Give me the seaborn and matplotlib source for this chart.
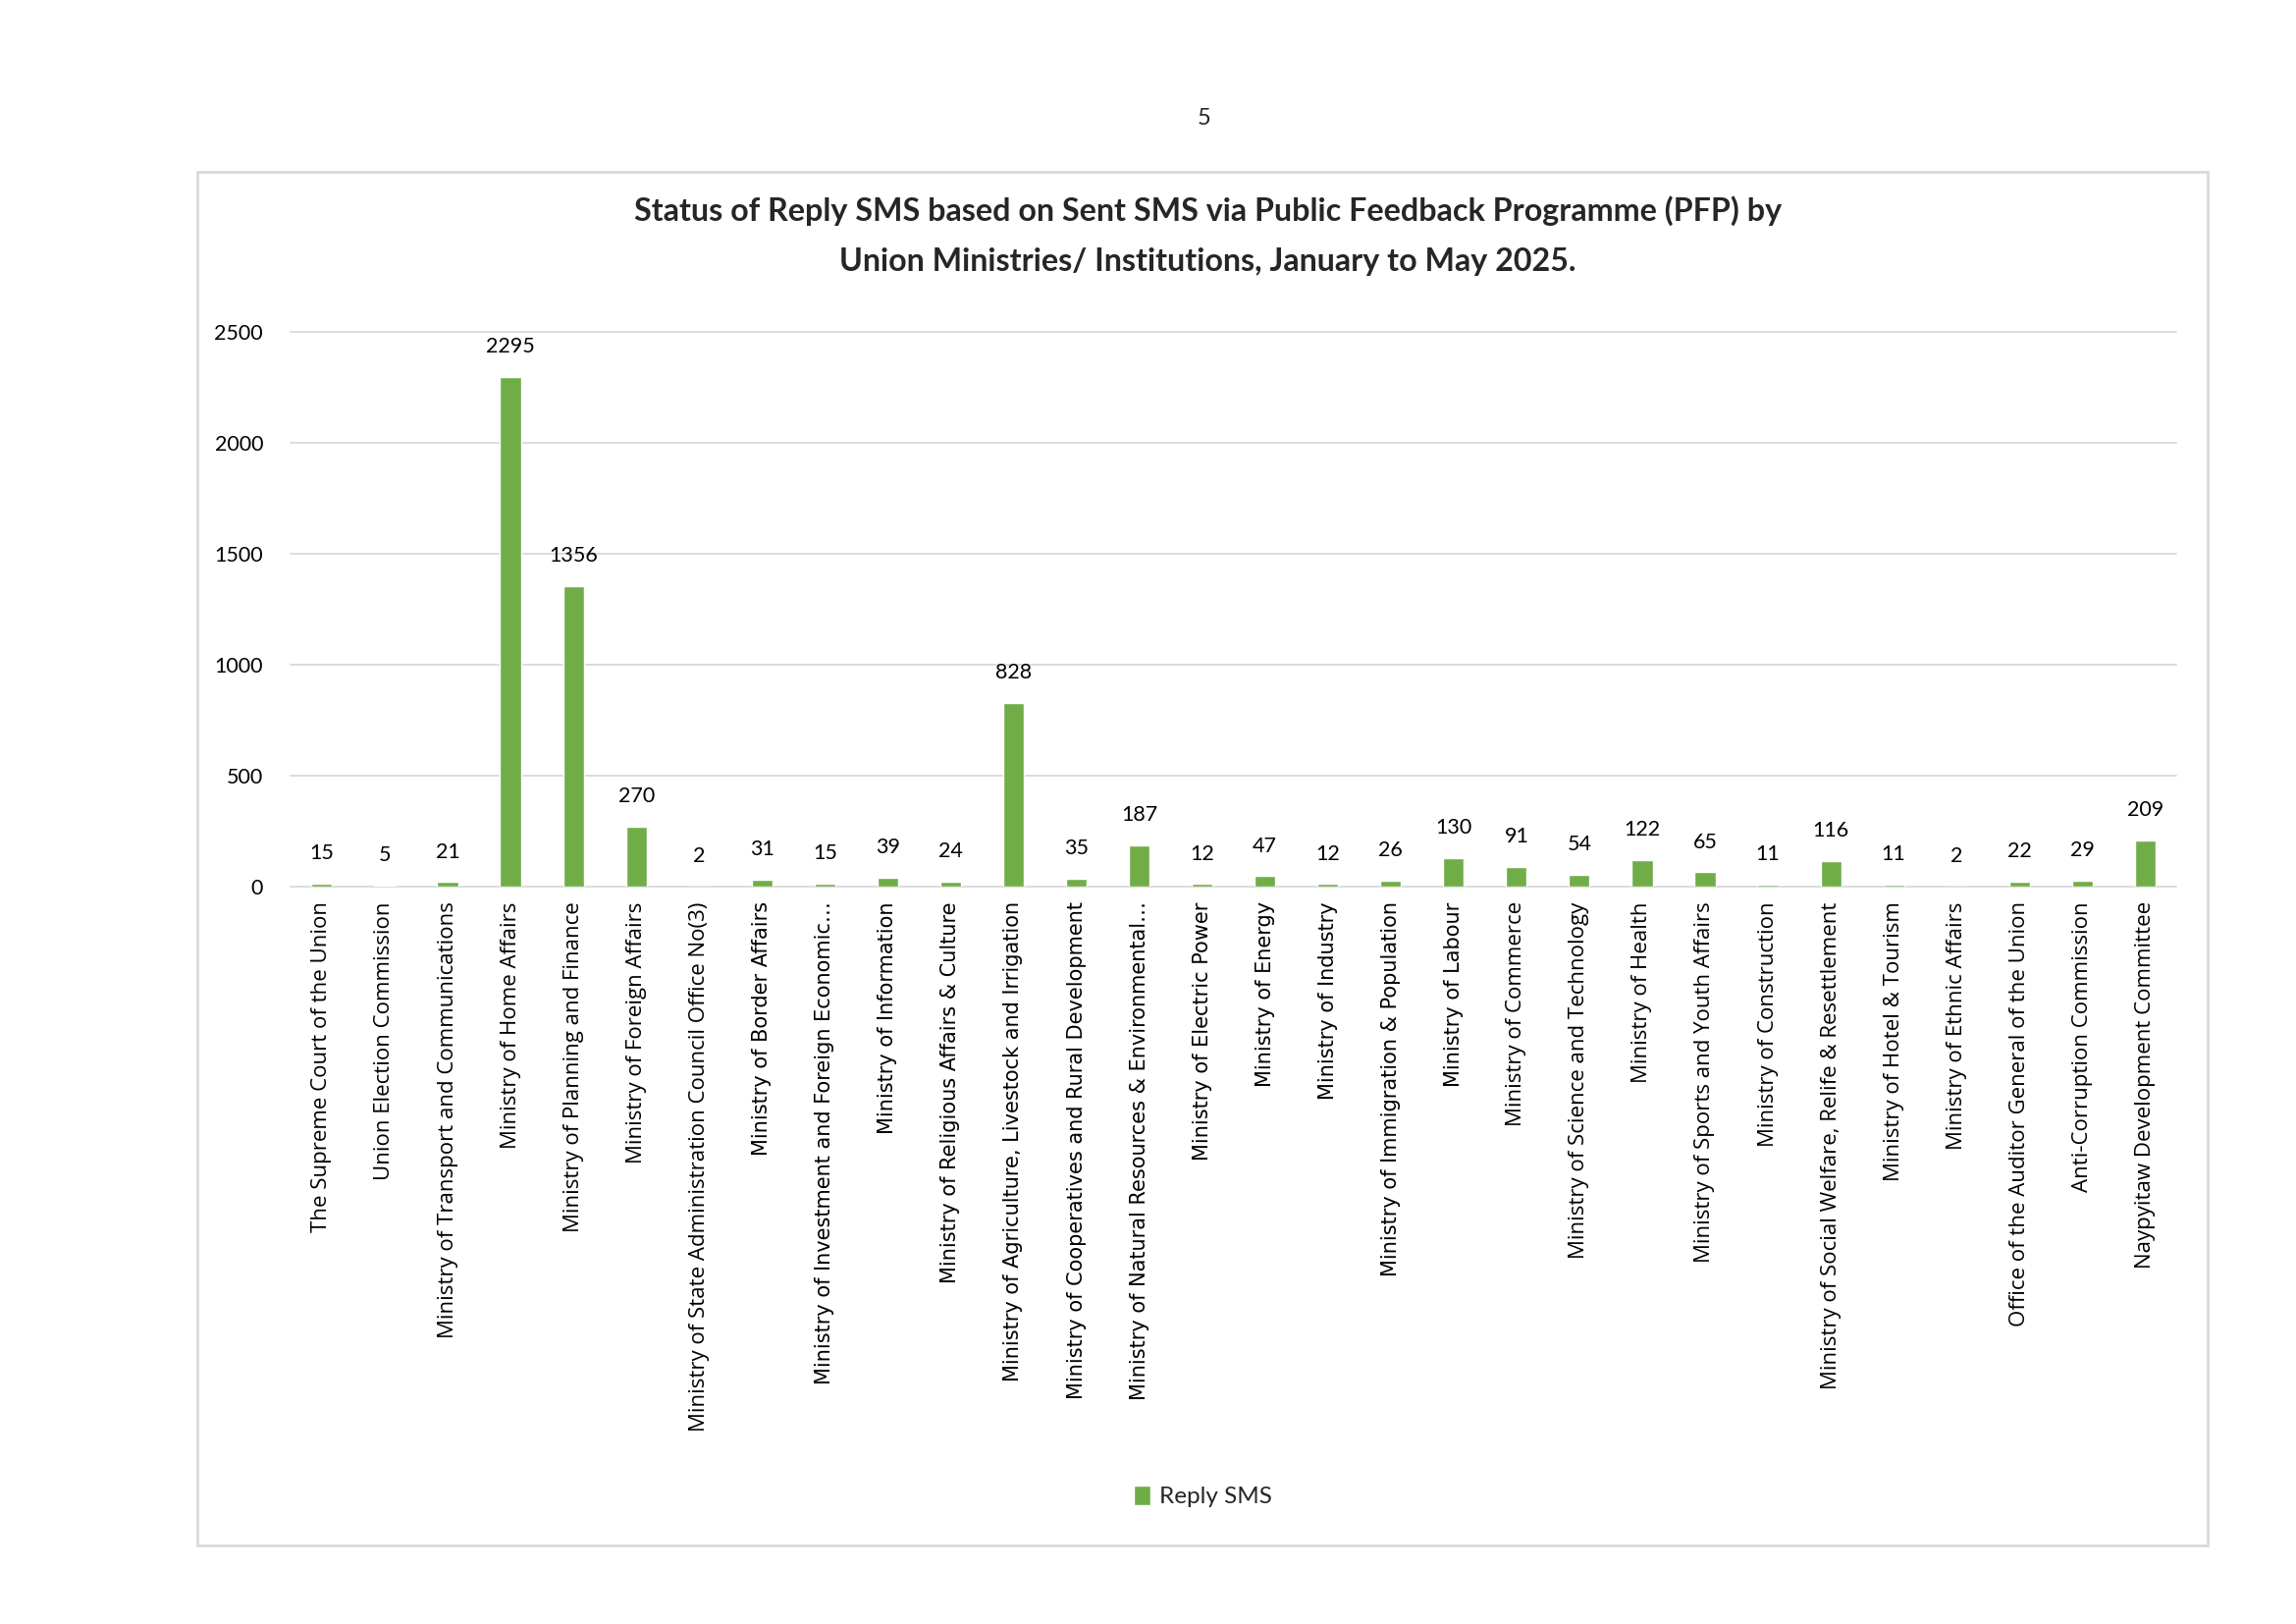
import matplotlib
matplotlib.use("Agg")
import matplotlib.pyplot as plt
import seaborn as sns
import pandas as pd
from matplotlib.patches import Rectangle

# data
ministries = [
    "The Supreme Court of the Union",
    "Union Election Commission",
    "Ministry of Transport and Communications",
    "Ministry of Home Affairs",
    "Ministry of Planning and Finance",
    "Ministry of Foreign Affairs",
    "Ministry of State Administration Council Office No(3)",
    "Ministry of Border Affairs",
    "Ministry of Investment and Foreign Economic\u2026",
    "Ministry of Information",
    "Ministry of Religious Affairs & Culture",
    "Ministry of Agriculture, Livestock and Irrigation",
    "Ministry of Cooperatives and Rural Development",
    "Ministry of Natural Resources & Environmental\u2026",
    "Ministry of Electric Power",
    "Ministry of Energy",
    "Ministry of Industry",
    "Ministry of Immigration & Population",
    "Ministry of Labour",
    "Ministry of Commerce",
    "Ministry of Science and Technology",
    "Ministry of Health",
    "Ministry of Sports and Youth Affairs",
    "Ministry of Construction",
    "Ministry of Social Welfare, Relife & Resettlement",
    "Ministry of Hotel & Tourism",
    "Ministry of Ethnic Affairs",
    "Office of the Auditor General of the Union",
    "Anti-Corruption Commission",
    "Naypyitaw Development Committee",
]
reply_sms = [15, 5, 21, 2295, 1356, 270, 2, 31, 15, 39, 24, 828, 35, 187, 12,
             47, 12, 26, 130, 91, 54, 122, 65, 11, 116, 11, 2, 22, 29, 209]
y_ticks = [0, 500, 1000, 1500, 2000, 2500]
series_name = "Reply SMS"

title_lines = ["Status of Reply SMS based on Sent SMS via Public Feedback Programme (PFP) by",
               "Union Ministries/ Institutions, January to May 2025."]

GREEN = "#70AD47"
GRID = "#D9D9D9"
MAIN_FONT = ["Lato", "DejaVu Sans"]

sns.set_theme(style="white")
plt.rcParams["font.family"] = MAIN_FONT

df = pd.DataFrame({"ministry": ministries, "sms": reply_sms, "series": series_name})

fig = plt.figure(figsize=(23.39, 16.54), dpi=100)
ax = fig.add_axes([0.1265, 0.454, 0.948 - 0.1265, 0.7957 - 0.454])

sns.barplot(data=df, x="ministry", y="sms", hue="series", palette=[GREEN],
            width=0.33, dodge=False, saturation=1, ax=ax)

ax.set_ylim(0, 2500)
ax.set_yticks(y_ticks)
ax.set_xlim(-0.5, len(ministries) - 0.5)
ax.set_xlabel("")
ax.set_ylabel("")
for s in ax.spines.values():
    s.set_visible(False)
ax.yaxis.grid(True, color=GRID, linewidth=1.3)
ax.set_axisbelow(True)
for gl in ax.get_ygridlines():
    gl.set_clip_on(False)

ax.tick_params(axis="y", length=0, pad=20, labelsize=15.5, labelcolor="black")
ax.tick_params(axis="x", length=0, pad=11, labelcolor="black")
ax.set_xticks(range(len(ministries)))
ax.set_xticklabels(ministries, rotation=90, ha="center", va="top")
for i, lbl in enumerate(ax.get_xticklabels()):
    # the middle block of labels is in a different face in the source
    if 7 <= i <= 18:
        lbl.set_fontfamily(["DejaVu Sans"])
        lbl.set_fontsize(15)
    else:
        lbl.set_fontfamily(["Open Sans", "DejaVu Sans"])
        lbl.set_fontsize(16)

ax.bar_label(ax.containers[0], padding=15, fontsize=15.5, color="black")

ax.legend(loc="center", bbox_to_anchor=(0.524, 0.0785), bbox_transform=fig.transFigure,
          frameon=False, handlelength=0.7, handleheight=0.9, handletextpad=0.35,
          fontsize=17.5)

fig.text(0.526, 0.8703, title_lines[0], ha="center", va="center",
         fontsize=23.2, fontweight="bold")
fig.text(0.526, 0.8386, title_lines[1], ha="center", va="center",
         fontsize=23.2, fontweight="bold")

fig.patches.append(Rectangle((0.0859, 0.0484), 0.9615 - 0.0859, 0.894 - 0.0484,
                             transform=fig.transFigure, fill=False,
                             edgecolor=GRID, linewidth=2))
fig.text(0.5246, 0.9274, "5", ha="center", va="center", fontsize=17)

fig.savefig("out.png", dpi=100)
